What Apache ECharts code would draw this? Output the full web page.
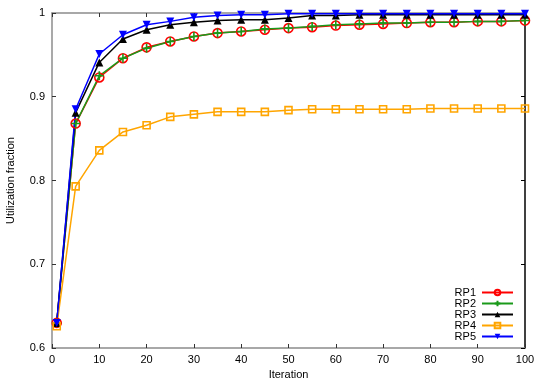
<!DOCTYPE html>
<html>
<head>
<meta charset="utf-8">
<script src="https://cdn.jsdelivr.net/npm/echarts@6/dist/echarts.min.js"></script>
<style>
html,body{margin:0;padding:0;background:#fff;}
#chart{width:545px;height:382px;}
</style>
</head>
<body>
<div id="chart"></div>
<script>
var iterations = [1,5,10,15,20,25,30,35,40,45,50,55,60,65,70,75,80,85,90,95,100];
var seriesNames = ['RP1','RP2','RP3','RP4','RP5'];
var rp1 = [0.630,0.868,0.923,0.946,0.959,0.966,0.972,0.976,0.978,0.980,0.982,0.983,0.985,0.986,0.987,0.988,0.989,0.989,0.990,0.990,0.991];
var rp2 = [0.630,0.868,0.925,0.946,0.958,0.966,0.972,0.976,0.978,0.981,0.982,0.984,0.986,0.987,0.988,0.988,0.989,0.989,0.990,0.990,0.991];
var rp3 = [0.630,0.881,0.941,0.969,0.980,0.986,0.989,0.991,0.992,0.992,0.994,0.997,0.997,0.998,0.998,0.998,0.998,0.998,0.998,0.998,0.998];
var rp4 = [0.626,0.793,0.836,0.858,0.866,0.876,0.879,0.882,0.882,0.882,0.884,0.885,0.885,0.885,0.885,0.885,0.886,0.886,0.886,0.886,0.886];
var rp5 = [0.630,0.885,0.951,0.974,0.986,0.990,0.995,0.997,0.998,0.998,0.999,0.999,0.999,0.999,0.999,0.999,0.999,0.999,0.999,0.999,0.999];
var xTicks = [0,10,20,30,40,50,60,70,80,90,100];
var yTicks = [0.6,0.7,0.8,0.9,1];

function pairs(arr){ return iterations.map(function(x,i){ return [x, arr[i]]; }); }

var FONT = 'Liberation Sans';
var chart = echarts.init(document.getElementById('chart'), null, {renderer:'canvas'});
var plusPath = 'path://M5,0L5,10M0,5L10,5';

var option = {
  backgroundColor:'#fff',
  animation:false,
  textStyle:{fontFamily:FONT},
  grid:{left:52, right:20, top:13, bottom:34, containLabel:false, outerBoundsMode:'none'},
  legend:{
    orient:'vertical', right:26, top:285, align:'right', padding:[2,5,2,5],
    itemWidth:31, itemHeight:7, itemGap:0,
    textStyle:{fontFamily:FONT, fontSize:11, color:'#000', lineHeight:10, padding:[0,1,0,0]},
    data:seriesNames
  },
  xAxis:[{
    type:'value', min:0, max:100, interval:10, position:'bottom',
    name:'Iteration', nameLocation:'middle', nameGap:21,
    nameTextStyle:{fontFamily:FONT, fontSize:11, color:'#000'},
    axisLine:{show:true, lineStyle:{color:'#8c8c8c', width:1.5}},
    axisTick:{show:true, inside:true, length:4, lineStyle:{color:'#333', width:1}},
    axisLabel:{fontFamily:FONT, fontSize:11, color:'#000', margin:6},
    splitLine:{show:false}
  },{
    type:'value', min:0, max:100, interval:10, position:'top',
    axisLine:{show:true, onZero:false, lineStyle:{color:'#8c8c8c', width:1.5}},
    axisTick:{show:true, inside:true, length:4, lineStyle:{color:'#333', width:1}},
    axisLabel:{show:false}, splitLine:{show:false}
  }],
  yAxis:[{
    type:'value', min:0.6, max:1, interval:0.1, position:'left',
    name:'Utilization fraction', nameLocation:'middle', nameGap:36,
    nameTextStyle:{fontFamily:FONT, fontSize:11, color:'#000'},
    axisLine:{show:true, lineStyle:{color:'#8c8c8c', width:1.5}},
    axisTick:{show:true, inside:true, length:4, lineStyle:{color:'#333', width:1}},
    axisLabel:{fontFamily:FONT, fontSize:11, color:'#000', margin:7,
      formatter:function(v){ return Math.abs(v-1)<1e-9 ? '1' : v.toFixed(1); }},
    splitLine:{show:false}
  },{
    type:'value', min:0.6, max:1, interval:0.1, position:'right',
    axisLine:{show:true, onZero:false, lineStyle:{color:'#000', width:1.5}},
    axisTick:{show:true, inside:true, length:4, lineStyle:{color:'#000', width:1}},
    axisLabel:{show:false}, splitLine:{show:false}
  }],
  series:[
    {name:'RP1', type:'line', data:pairs(rp1), symbol:'circle', symbolSize:9,
     color:'#ff0000', lineStyle:{color:'#ff0000', width:1.5},
     itemStyle:{color:'rgba(255,255,255,0)', borderColor:'#ff0000', borderWidth:1.6}},
    {name:'RP2', type:'line', data:pairs(rp2), symbol:plusPath, symbolSize:9,
     color:'#1a9a1a', lineStyle:{color:'#1a9a1a', width:1.5},
     itemStyle:{color:'#1a9a1a', borderColor:'#1a9a1a', borderWidth:1.6}},
    {name:'RP3', type:'line', data:pairs(rp3), symbol:'triangle', symbolSize:8,
     color:'#000000', lineStyle:{color:'#000000', width:1.5},
     itemStyle:{color:'#000000'}},
    {name:'RP4', type:'line', data:pairs(rp4), symbol:'rect', symbolSize:7,
     color:'#ffa500', lineStyle:{color:'#ffa500', width:1.5},
     itemStyle:{color:'rgba(255,255,255,0)', borderColor:'#ffa500', borderWidth:1.6}},
    {name:'RP5', type:'line', data:pairs(rp5), symbol:'triangle', symbolRotate:180, symbolSize:8,
     color:'#0000ff', lineStyle:{color:'#0000ff', width:1.5},
     itemStyle:{color:'#0000ff'}}
  ]
};
chart.setOption(option);
</script>
</body>
</html>
